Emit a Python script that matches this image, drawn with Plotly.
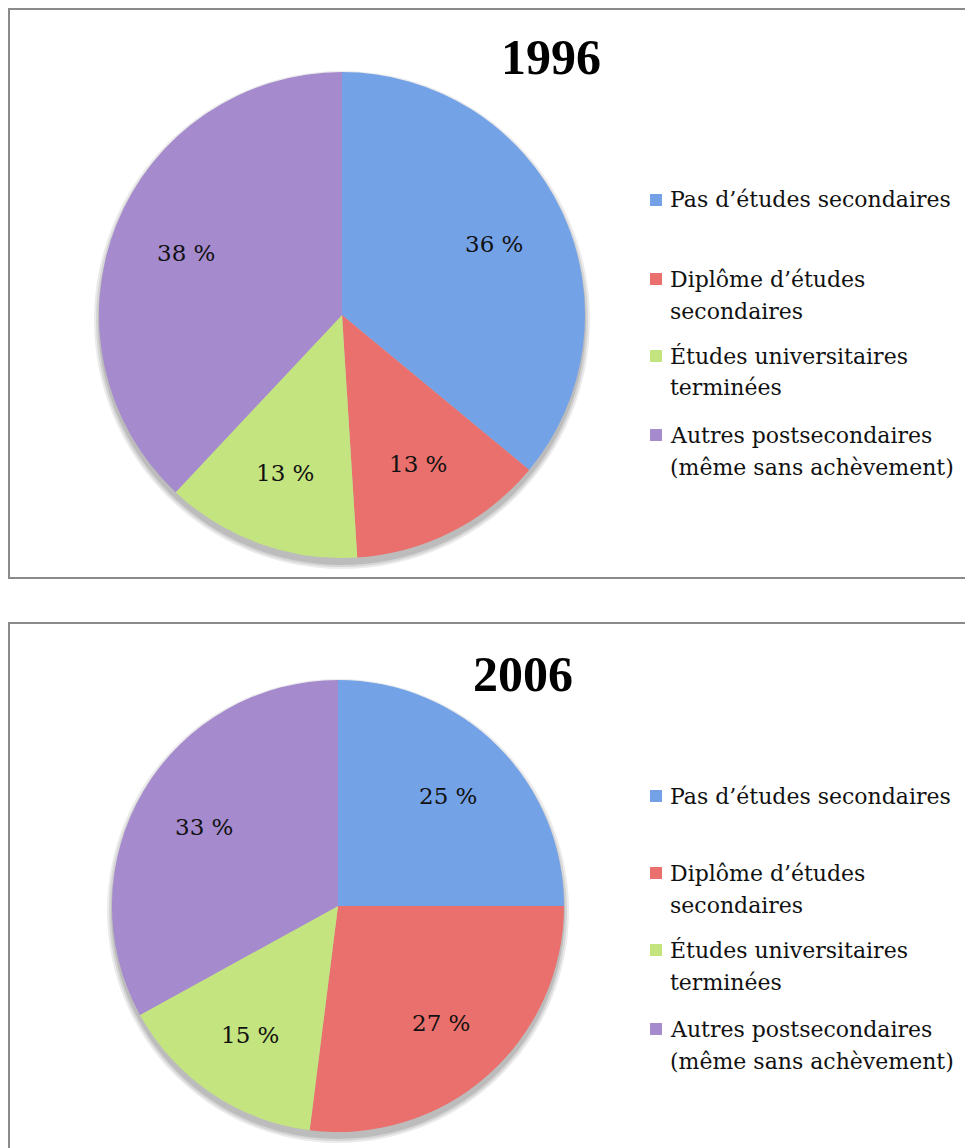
import math
import plotly.graph_objects as go

W, H = 973, 1148
OFF = 8  # page body margin of the html page

categories = [
    "Pas d’études secondaires",
    "Diplôme d’études secondaires",
    "Études universitaires terminées",
    "Autres postsecondaires (même sans achèvement)",
]
legend_lines = [
    ["Pas d’études secondaires"],
    ["Diplôme d’études", "secondaires"],
    ["Études universitaires", "terminées"],
    ["Autres postsecondaires", "(même sans achèvement)"],
]
years = ["1996", "2006"]
values_1996 = [36, 13, 13, 38]
values_2006 = [25, 27, 15, 33]

colors = ["#74a2e7", "#e9706c", "#c4e47f", "#a58acd"]
FONT = "DejaVu Serif"
TITLE_FONT = "Liberation Serif"

def px_x(v):
    return (v - OFF) / W

def px_y(v):
    return 1 - (v - OFF) / H

panels = [
    dict(cx=342, cy=315, r=243, tx=551, ty=57, ly=[200, 279, 356, 435], top=9, bottom=578),
    dict(cx=338, cy=906, r=226, tx=523, ty=674, ly=[796, 873, 950, 1029], top=623, bottom=1200),
]
series = [values_1996, values_2006]

fig = go.Figure()
shapes = []
annotations = []

for p, vals, yr in zip(panels, series, years):
    cx, cy, r = p["cx"], p["cy"], p["r"]
    shapes.append(dict(type="rect", xref="paper", yref="paper",
                       x0=px_x(9), x1=px_x(W + 30), y0=px_y(p["bottom"]), y1=px_y(p["top"]),
                       line=dict(color="#8a8a8a", width=2), fillcolor="rgba(0,0,0,0)", layer="below"))
    for dr, op in [(6, 0.10), (4, 0.12), (2, 0.16)]:
        shapes.append(dict(type="circle", xref="paper", yref="paper",
                           x0=px_x(cx - r - dr + 1), x1=px_x(cx + r + dr - 1),
                           y0=px_y(cy + 5 + r + dr), y1=px_y(cy + 5 - r - dr),
                           line=dict(width=0), fillcolor=f"rgba(60,60,60,{op})", layer="below"))
    fig.add_trace(go.Pie(
        labels=categories, values=vals, sort=False, direction="clockwise", rotation=0,
        marker=dict(colors=colors, line=dict(width=0)),
        textinfo="none",
        domain=dict(x=[px_x(cx - r), px_x(cx + r)], y=[px_y(cy + r), px_y(cy - r)]),
        showlegend=False, hoverinfo="label+percent",
    ))
    total = sum(vals)
    cum = 0
    for v in vals:
        mid = (cum + v / 2) / total * 2 * math.pi
        cum += v
        lx = cx + 0.69 * r * math.sin(mid)
        ly_ = cy - 0.69 * r * math.cos(mid)
        annotations.append(dict(text=f"{v} %", x=px_x(lx), y=px_y(ly_), xref="paper", yref="paper",
                                showarrow=False, xanchor="center", yanchor="middle",
                                font=dict(family=FONT, size=23, color="#111111")))
    annotations.append(dict(text=f"<b>{yr}</b>", x=px_x(p["tx"]), y=px_y(p["ty"]), xref="paper", yref="paper",
                            showarrow=False, xanchor="center", yanchor="middle",
                            font=dict(family=TITLE_FONT, size=50, color="#000000")))
    for lines, col, ly in zip(legend_lines, colors, p["ly"]):
        shapes.append(dict(type="rect", xref="paper", yref="paper",
                           x0=px_x(650), x1=px_x(662), y0=px_y(ly + 6), y1=px_y(ly - 6),
                           line=dict(width=0), fillcolor=col))
        for i, line in enumerate(lines):
            annotations.append(dict(text=line, x=px_x(668), y=px_y(ly + 32 * i), xref="paper", yref="paper",
                                    showarrow=False, xanchor="left", yanchor="middle", align="left",
                                    font=dict(family=FONT, size=22, color="#111111")))

fig.update_layout(
    width=W, height=H, margin=dict(l=0, r=0, t=0, b=0),
    paper_bgcolor="white", plot_bgcolor="white",
    shapes=shapes, annotations=annotations,
)

fig.write_html("out.html")
